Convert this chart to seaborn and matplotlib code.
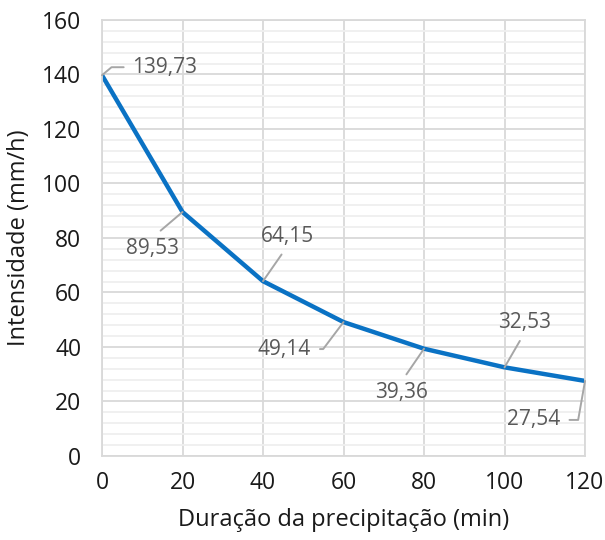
import matplotlib.pyplot as plt
import seaborn as sns
from matplotlib.ticker import MultipleLocator

# dados
duracao = [0, 20, 40, 60, 80, 100, 120]
intensidade = [139.73, 89.53, 64.15, 49.14, 39.36, 32.53, 27.54]
rotulos = ["139,73", "89,53", "64,15", "49,14", "39,36", "32,53", "27,54"]

sns.set_theme(style="white")
plt.rcParams["font.family"] = ["Open Sans", "DejaVu Sans"]

fig = plt.figure(figsize=(6.05, 5.4), dpi=100)
ax = fig.add_axes([0.1686, 0.1556, 0.7984, 0.8074])

sns.lineplot(x=duracao, y=intensidade, color="#0a72c4", linewidth=3.2, ax=ax)

ax.set_xlim(0, 120)
ax.set_ylim(0, 160)
ax.xaxis.set_major_locator(MultipleLocator(20))
ax.yaxis.set_major_locator(MultipleLocator(20))
ax.yaxis.set_minor_locator(MultipleLocator(4))
ax.grid(which="major", axis="both", color="#d9d9d9", linewidth=1.3)
ax.grid(which="minor", axis="y", color="#efefef", linewidth=1.3)
ax.set_axisbelow(True)
for s in ax.spines.values():
    s.set_color("#d9d9d9")
    s.set_linewidth(1.3)
ax.tick_params(which="both", length=0, labelsize=16.5, labelcolor="#1a1a1a")
ax.tick_params(axis="y", pad=15)
ax.tick_params(axis="x", pad=11)
ax.set_xlabel("Duração da precipitação (min)", fontsize=17, color="#1a1a1a", labelpad=9)
ax.set_ylabel("Intensidade (mm/h)", fontsize=17, color="#1a1a1a", labelpad=8)

# rótulos de dados com linhas de chamada (deslocamento em pixels)
offsets = [(63, 8), (-30, -36), (24, 45), (-59, -27), (-23, -44), (20, 45), (-51, -39)]
relpos = [(0, 0.5), (0.5, 1), (0.5, 0), (1, 0.5), (0.5, 1), (0.5, 0), (1, 0.5)]
conn = ["angle,angleA=0,angleB=40,rad=0", "arc3", "arc3",
        "angle,angleA=0,angleB=53,rad=0", "arc3", "arc3",
        "angle,angleA=0,angleB=80,rad=0"]

for x, y, t, off, rp, cs in zip(duracao, intensidade, rotulos, offsets, relpos, conn):
    ax.annotate(
        t, xy=(x, y), xytext=off, textcoords="offset pixels",
        ha="center", va="center", fontsize=15, color="#595959",
        annotation_clip=False,
        arrowprops=dict(arrowstyle="-", color="#a6a6a6", lw=1.4,
                        shrinkA=4, shrinkB=0, relpos=rp, connectionstyle=cs),
    )

plt.savefig("out.png", dpi=100)
